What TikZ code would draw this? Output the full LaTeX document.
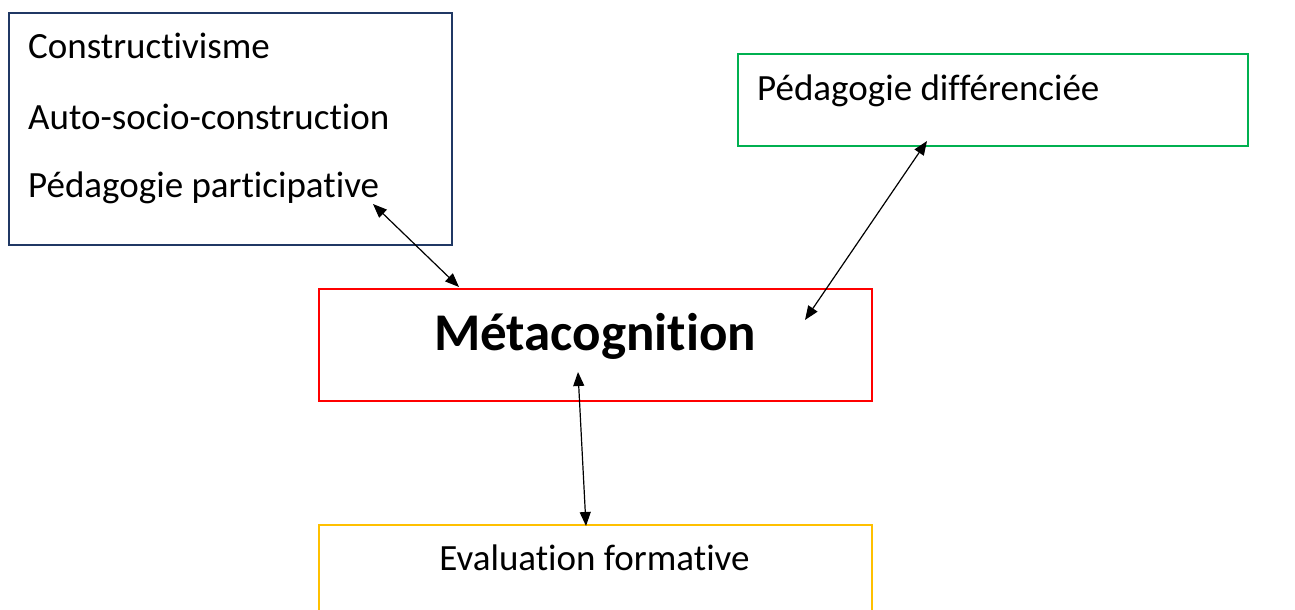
\documentclass[tikz,border=0pt]{standalone}
\usepackage{fontspec}
\setmainfont[Ligatures=NoCommon]{Carlito}
\usetikzlibrary{arrows.meta}
\definecolor{boxblue}{HTML}{203864}
\definecolor{boxgreen}{HTML}{00B050}
\definecolor{boxred}{HTML}{FF0000}
\definecolor{boxyellow}{HTML}{FFC000}
\tikzset{
  frame/.style={draw=#1, line width=2pt, fill=none, inner sep=0pt, anchor=north west},
  label/.style={inner sep=0pt, anchor=base west, font=\fontsize{37}{44}\selectfont},
  conn/.style={line width=1.2pt, {Triangle[length=14pt,width=11pt]}-{Triangle[length=14pt,width=11pt]}}
}
\begin{document}
\begin{tikzpicture}[x=1pt,y=-1pt]
\useasboundingbox (0,0) rectangle (1295,610);
% boxes
\node[frame=boxblue, minimum width=443pt, minimum height=232pt] (blue) at (8,12) {};
\node[frame=boxgreen, minimum width=510pt, minimum height=92pt] (green) at (737,53) {};
\node[frame=boxred, minimum width=553pt, minimum height=112pt] (meta) at (318,288) {};
\node[frame=boxyellow, minimum width=553pt, minimum height=140pt] (eval) at (318,524) {};
% texts
\node[label] (t1) at (28,59) {Constructivisme};
\node[label] (t2) at (28,129) {Auto-socio-construction};
\node[label] (t3) at (28,197) {Pédagogie participative};
\node[label] (t4) at (757,100) {Pédagogie différenciée};
\node[inner sep=0pt, anchor=base, font=\fontsize{53}{60}\selectfont\bfseries] (tm) at (595,350) {Métacognition};
\node[inner sep=0pt, anchor=base, font=\fontsize{37}{44}\selectfont] (te) at (594.5,570) {Evaluation formative};
% connector ends
\coordinate (a1) at (373,204);
\coordinate (a2) at (459,287);
\coordinate (b1) at (927,141);
\coordinate (b2) at (805,320);
\coordinate (c1) at (578,372);
\coordinate (c2) at (586,526);
\draw[conn] (a1) -- (a2);
\draw[conn] (b1) -- (b2);
\draw[conn] (c1) -- (c2);
\end{tikzpicture}
\end{document}
